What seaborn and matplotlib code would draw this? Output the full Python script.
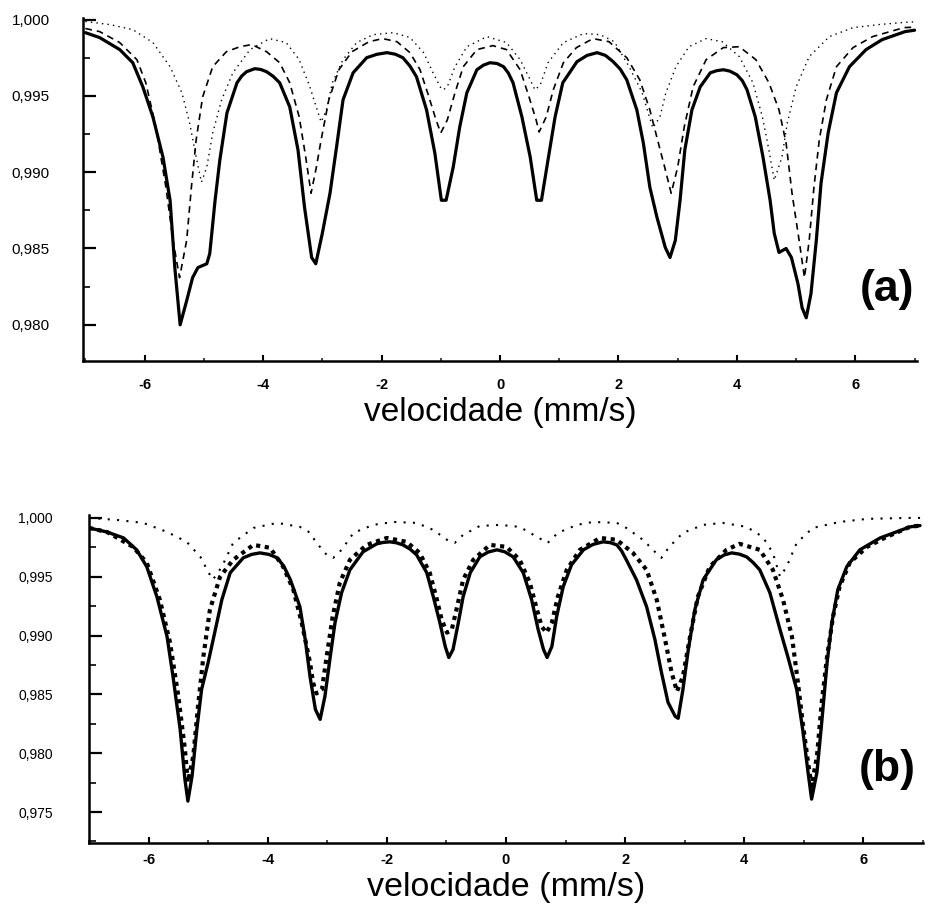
import matplotlib
matplotlib.use("Agg")
import matplotlib.pyplot as plt
import pandas as pd
import seaborn as sns
from matplotlib.ticker import MultipleLocator, FuncFormatter

# Mössbauer spectra: relative transmission vs. source velocity (mm/s)

# ---- panel (a) ----
A_SOLID = [
    (-7.0, .99914), (-6.76, .99882), (-6.42, .99803), (-6.2, .99717), (-6.03, .99559),
    (-5.86, .99362), (-5.69, .99099), (-5.57, .98816), (-5.49, .98375), (-5.40, .98000),
    (-5.29, .98158), (-5.19, .98309), (-5.1, .98375), (-4.95, .98400), (-4.9, .98467),
    (-4.81, .98816), (-4.73, .99079), (-4.61, .99388), (-4.44, .99586), (-4.36, .99630),
    (-4.28, .99658), (-4.14, .99678), (-4.04, .99673), (-3.94, .99658), (-3.83, .99628),
    (-3.72, .99586), (-3.55, .99428), (-3.41, .99145),
    (-3.3, .98770), (-3.18, .98441), (-3.11, .98400), (-3.0, .98599), (-2.87, .98862),
    (-2.75, .99191), (-2.65, .99474), (-2.48, .99651), (-2.25, .99750), (-2.08, .99772),
    (-1.91, .99783), (-1.77, .99773), (-1.64, .99750), (-1.52, .99695),
    (-1.41, .99625), (-1.24, .99408), (-1.1, .99125), (-0.99, .98816),
    (-0.91, .98816), (-0.79, .99033), (-0.68, .99296), (-0.56, .99520), (-0.39, .99671),
    (-0.28, .99701), (-0.17, .99717), (-0.05, .99712), (0.06, .99691), (0.14, .99650),
    (0.22, .99586), (0.37, .99362), (0.51, .99099),
    (0.62, .98816), (0.70, .98816), (0.81, .99079), (0.93, .99362), (1.06, .99586),
    (1.3, .99724), (1.47, .99765), (1.64, .99783), (1.78, .99765), (1.91, .99724),
    (2.03, .99675), (2.14, .99605), (2.31, .99408),
    (2.42, .99191), (2.53, .98901), (2.65, .98704), (2.79, .98507), (2.87, .98441),
    (2.96, .98553), (3.04, .98816), (3.12, .99145), (3.24, .99408), (3.38, .99559),
    (3.55, .99651), (3.66, .99665), (3.77, .99671), (3.88, .99662), (4.0, .99638),
    (4.09, .99600), (4.17, .99540), (4.31, .99362),
    (4.44, .99099), (4.56, .98816), (4.63, .98599), (4.71, .98474), (4.83, .98500),
    (4.92, .98441), (5.03, .98270), (5.1, .98112), (5.17, .98046), (5.25, .98204),
    (5.34, .98553), (5.42, .98928), (5.54, .99257), (5.68, .99520), (5.9, .99691),
    (6.18, .99803), (6.45, .99868), (6.84, .99921), (7.0, .99930),
]

A_DASHED = [
    (-7.0, .99941), (-6.76, .99921), (-6.42, .99849), (-6.13, .99737), (-5.98, .99586),
    (-5.81, .99296), (-5.64, .98901), (-5.52, .98553), (-5.41, .98309), (-5.29, .98553),
    (-5.21, .98901), (-5.13, .99211), (-5.02, .99493), (-4.85, .99691), (-4.62, .99789),
    (-4.39, .99822), (-4.19, .99836), (-3.94, .99789), (-3.72, .99717), (-3.55, .99586),
    (-3.39, .99362), (-3.28, .99099), (-3.19, .98862), (-3.1, .99033), (-3.02, .99211),
    (-2.89, .99474), (-2.72, .99671), (-2.5, .99789), (-2.21, .99855), (-1.98, .99875),
    (-1.74, .99855), (-1.52, .99783), (-1.35, .99671), (-1.2, .99493), (-1.08, .99342),
    (-1.0, .99257), (-0.89, .99342), (-0.76, .99520), (-0.62, .99691), (-0.39, .99803),
    (-0.12, .99829), (0.11, .99803), (0.34, .99671), (0.49, .99493), (0.61, .99342),
    (0.66, .99263), (0.78, .99362), (0.9, .99540), (1.07, .99717), (1.29, .99816),
    (1.57, .99875), (1.84, .99855), (2.14, .99750), (2.36, .99605), (2.53, .99408),
    (2.66, .99211), (2.78, .99033), (2.89, .98862), (3.0, .99033), (3.11, .99296),
    (3.26, .99559), (3.48, .99737), (3.77, .99816), (4.04, .99822), (4.32, .99737),
    (4.54, .99586), (4.71, .99408), (4.83, .99191), (4.93, .98862), (5.05, .98553),
    (5.14, .98309), (5.22, .98553), (5.3, .98901), (5.39, .99211), (5.51, .99474),
    (5.68, .99691), (5.96, .99816), (6.29, .99888), (6.82, .99947), (7.0, .99950),
]

A_DOTTED = [
    (-7.0, .99987), (-6.59, .99967), (-6.2, .99934), (-5.86, .99849), (-5.57, .99691),
    (-5.37, .99520), (-5.24, .99322), (-5.13, .99099), (-5.04, .98934), (-4.95, .99033),
    (-4.85, .99257), (-4.7, .99474), (-4.51, .99651), (-4.22, .99803), (-3.89, .99875),
    (-3.61, .99849), (-3.39, .99737), (-3.21, .99559), (-3.07, .99388), (-3.02, .99329),
    (-2.93, .99408), (-2.83, .99586), (-2.65, .99737), (-2.42, .99849), (-2.14, .99901),
    (-1.8, .99914), (-1.52, .99882), (-1.29, .99783), (-1.13, .99651), (-1.01, .99559),
    (-0.96, .99539), (-0.89, .99559), (-0.76, .99691), (-0.56, .99822), (-0.22, .99888),
    (0.11, .99849), (0.34, .99737), (0.51, .99605), (0.59, .99539), (0.68, .99572),
    (0.81, .99717), (1.07, .99849), (1.41, .99908), (1.69, .99901), (1.93, .99855),
    (2.18, .99691), (2.4, .99520), (2.58, .99289), (2.7, .99362), (2.8, .99520),
    (2.97, .99691), (3.19, .99822), (3.48, .99875), (3.75, .99855), (4.04, .99757),
    (4.27, .99586), (4.43, .99362), (4.54, .99145), (4.63, .98947), (4.76, .99099),
    (4.85, .99322), (5.0, .99559), (5.22, .99757), (5.56, .99888), (5.96, .99947),
    (6.4, .99967), (6.79, .99980), (7.0, .99985),
]

# ---- panel (b) ----
B_SOLID = [
    (-7.0, .99915), (-6.7, .99881), (-6.42, .99830), (-6.2, .99729), (-6.03, .99585),
    (-5.86, .99330), (-5.69, .98992), (-5.59, .98653), (-5.47, .98203), (-5.39, .97779),
    (-5.34, .97593), (-5.27, .97805), (-5.19, .98203), (-5.11, .98542), (-5.0, .98771),
    (-4.89, .99025), (-4.77, .99305), (-4.63, .99534), (-4.41, .99661), (-4.27, .99690),
    (-4.13, .99703), (-3.98, .99690), (-3.84, .99661), (-3.73, .99590),
    (-3.62, .99475), (-3.46, .99246), (-3.37, .98966), (-3.29, .98653),
    (-3.2, .98373), (-3.12, .98288), (-3.04, .98483), (-2.95, .98822), (-2.87, .99110),
    (-2.76, .99364), (-2.62, .99559), (-2.4, .99712), (-2.17, .99780), (-2.06, .99792),
    (-1.95, .99797), (-1.84, .99789), (-1.73, .99771), (-1.61, .99735),
    (-1.5, .99686), (-1.33, .99534), (-1.22, .99330), (-1.11, .99110),
    (-1.02, .98907), (-0.96, .98814), (-0.89, .98881), (-0.8, .99110), (-0.72, .99330),
    (-0.6, .99534), (-0.44, .99669), (-0.3, .99710), (-0.15, .99729), (-0.02, .99712),
    (0.12, .99669), (0.29, .99534),
    (0.43, .99305), (0.54, .99051), (0.63, .98881), (0.69, .98814), (0.77, .98907),
    (0.85, .99161), (0.96, .99415), (1.1, .99602), (1.3, .99729), (1.46, .99775),
    (1.63, .99797), (1.75, .99790), (1.86, .99771), (1.94, .99720),
    (2.02, .99644), (2.19, .99475), (2.36, .99246), (2.5, .98966),
    (2.61, .98686), (2.72, .98432), (2.84, .98314), (2.89, .98297), (2.97, .98542),
    (3.06, .98881), (3.17, .99220), (3.31, .99475), (3.53, .99644), (3.66, .99685),
    (3.79, .99703), (3.92, .99692), (4.04, .99669), (4.15, .99620),
    (4.26, .99559), (4.43, .99364), (4.6, .99051), (4.73, .98822),
    (4.88, .98542), (4.98, .98203), (5.07, .97839), (5.13, .97610), (5.22, .97839),
    (5.3, .98263), (5.39, .98771), (5.47, .99110), (5.57, .99390), (5.72, .99585),
    (5.94, .99729), (6.28, .99830), (6.78, .99924), (6.95, .99935),
]

B_FIT = [
    (-7.0, .99915), (-6.7, .99881), (-6.26, .99754), (-6.03, .99619), (-5.81, .99305),
    (-5.64, .98941), (-5.5, .98483), (-5.39, .98034), (-5.34, .97754), (-5.25, .97975),
    (-5.17, .98398), (-5.08, .98822), (-4.97, .99220), (-4.8, .99500), (-4.58, .99644),
    (-4.24, .99771), (-3.96, .99746), (-3.74, .99585), (-3.57, .99390), (-3.43, .99110),
    (-3.29, .98771), (-3.24, .98602), (-3.18, .98508), (-3.09, .98542), (-3.01, .98822),
    (-2.91, .99161), (-2.79, .99449), (-2.62, .99644), (-2.34, .99771), (-2.0, .99830),
    (-1.67, .99797), (-1.45, .99703), (-1.28, .99534), (-1.16, .99305), (-1.08, .99136),
    (-0.99, .99025), (-0.91, .99051), (-0.82, .99246), (-0.72, .99475), (-0.55, .99644),
    (-0.27, .99771), (0.01, .99754), (0.23, .99644), (0.4, .99449), (0.52, .99220),
    (0.6, .99076), (0.68, .99025), (0.77, .99110), (0.87, .99330), (1.02, .99559),
    (1.24, .99729), (1.58, .99830), (1.86, .99814), (2.13, .99703), (2.36, .99559),
    (2.53, .99305), (2.66, .98992), (2.78, .98686), (2.87, .98525), (2.97, .98653),
    (3.09, .98992), (3.22, .99330), (3.42, .99585), (3.7, .99729), (3.92, .99780),
    (4.26, .99729), (4.48, .99559), (4.65, .99305), (4.8, .98992), (4.9, .98602),
    (4.98, .98263), (5.07, .97924), (5.13, .97720), (5.22, .97975), (5.3, .98432),
    (5.39, .98822), (5.49, .99161), (5.6, .99415), (5.77, .99619), (6.06, .99754),
    (6.39, .99839), (6.78, .99924), (6.95, .99935),
]

B_MINOR = [
    (-7.0, 1.00000), (-6.53, .99983), (-6.09, .99958), (-5.69, .99881), (-5.36, .99797),
    (-5.13, .99669), (-5.0, .99542), (-4.92, .99475), (-4.77, .99585), (-4.58, .99788),
    (-4.24, .99915), (-3.84, .99958), (-3.46, .99924), (-3.3, .99878), (-3.18, .99788),
    (-3.01, .99686), (-2.9, .99661), (-2.76, .99729), (-2.56, .99873), (-2.23, .99941),
    (-1.89, .99966), (-1.5, .99958), (-1.22, .99898), (-0.99, .99814), (-0.86, .99788),
    (-0.72, .99856), (-0.44, .99932), (-0.1, .99941), (0.23, .99924), (0.52, .99839),
    (0.7, .99788), (0.87, .99873), (1.19, .99941), (1.46, .99966), (1.86, .99958),
    (2.02, .99915), (2.3, .99814), (2.5, .99712), (2.61, .99661), (2.74, .99754),
    (2.97, .99873), (3.31, .99941), (3.64, .99958), (4.04, .99924), (4.31, .99839),
    (4.48, .99703), (4.6, .99500), (4.71, .99585), (4.88, .99788), (5.15, .99915),
    (5.6, .99966), (6.06, .99992), (6.73, 1.00000), (7.0, 1.00000),
]

X_LABEL = "velocidade (mm/s)"


def frame(points):
    return pd.DataFrame(points, columns=["v", "t"])


sns.set_theme(style="white")
plt.rcParams["font.family"] = ["Liberation Sans", "DejaVu Sans"]

fig = plt.figure(figsize=(9.36, 9.05), dpi=100)
W, H = 936, 905
ax_a = fig.add_axes([83 / W, 1 - 361 / H, 834 / W, 343 / H])
ax_b = fig.add_axes([89 / W, 1 - 843 / H, 834 / W, 328 / H])

# panel (a) curves
sns.lineplot(data=frame(A_SOLID), x="v", y="t", ax=ax_a, sort=False, estimator=None,
             color="black", linewidth=2.3)
sns.lineplot(data=frame(A_DASHED), x="v", y="t", ax=ax_a, sort=False, estimator=None,
             color="black", linewidth=1.2, linestyle=(0, (4, 3)))
sns.lineplot(data=frame(A_DOTTED), x="v", y="t", ax=ax_a, sort=False, estimator=None,
             color="black", linewidth=1.0, linestyle=(0, (1, 3)))

# panel (b) curves
sns.lineplot(data=frame(B_SOLID), x="v", y="t", ax=ax_b, sort=False, estimator=None,
             color="black", linewidth=2.4)
sns.lineplot(data=frame(B_FIT), x="v", y="t", ax=ax_b, sort=False, estimator=None,
             color="black", linewidth=3.0, linestyle=(0, (1.0, 1.1)))
sns.lineplot(data=frame(B_MINOR), x="v", y="t", ax=ax_b, sort=False, estimator=None,
             color="black", linewidth=1.5, linestyle=(0, (1, 3.5)))

comma = FuncFormatter(lambda v, _: f"{v:.3f}".replace(".", ","))

for ax, ylim, xlim, ysize, ypad, xpad, lpad, lsize in [
    (ax_a, (0.97763, 1.0001), (-7.04, 7.04), 11, 24, 12.5, 3.5, 24),
    (ax_b, (0.97237, 1.00025), (-7.0, 7.0), 10, 26, 7.5, 3, 24.5),
]:
    ax.set_xlim(*xlim)
    ax.set_ylim(*ylim)
    ax.xaxis.set_major_locator(MultipleLocator(2))
    ax.xaxis.set_minor_locator(MultipleLocator(1))
    ax.yaxis.set_major_locator(MultipleLocator(0.005))
    ax.yaxis.set_minor_locator(MultipleLocator(0.0025))
    ax.yaxis.set_major_formatter(comma)
    ax.xaxis.set_major_formatter(FuncFormatter(lambda v, _: f"{v:.0f}"))
    for side in ("top", "right"):
        ax.spines[side].set_visible(False)
    for side in ("left", "bottom"):
        ax.spines[side].set_linewidth(1.8)
        ax.spines[side].set_color("black")
    ax.tick_params(axis="x", which="major", direction="in", length=4, width=1.5,
                   pad=xpad, labelsize=10.5, colors="black")
    ax.tick_params(axis="x", which="minor", direction="in", length=2.5, width=1.2)
    ax.tick_params(axis="y", which="major", direction="in", length=9, width=1.6,
                   pad=ypad, labelsize=ysize, colors="black")
    ax.tick_params(axis="y", which="minor", direction="in", length=5, width=1.4)
    ax.tick_params(bottom=True, left=True, which="both")
    for lab in ax.get_xticklabels():
        lab.set_fontweight("bold")
    ax.set_xlabel(X_LABEL, fontsize=lsize, labelpad=lpad, color="black")
    ax.set_ylabel("")
    ax.grid(False)

ax_a.text(0.964, 0.207, "(a)", transform=ax_a.transAxes, ha="center", va="center",
          fontsize=32, fontweight="bold", color="black")
ax_b.text(0.957, 0.223, "(b)", transform=ax_b.transAxes, ha="center", va="center",
          fontsize=32, fontweight="bold", color="black")

fig.savefig("out.png", dpi=100, facecolor="white")
